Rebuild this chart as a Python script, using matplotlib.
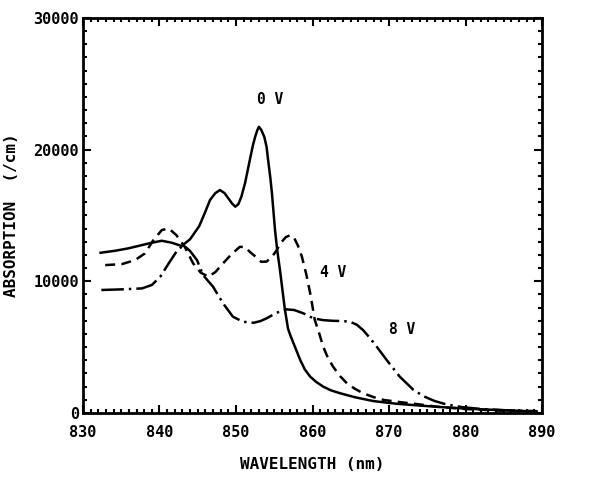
import numpy as np
import matplotlib
matplotlib.use("Agg")
import matplotlib.pyplot as plt
from matplotlib.ticker import MultipleLocator

# 0 V (solid)
wl_0v = [832.3, 834.2, 835.9, 837.7, 839.0, 840.3, 841.6, 842.9, 844.0, 845.2, 846.0,
         846.6, 847.3, 847.9, 848.5, 849.0, 849.5, 849.9, 850.3, 850.7, 851.2, 851.8,
         852.2, 852.5, 852.8, 853.0, 853.3, 853.7, 854.0, 854.2, 854.5, 854.7, 855.1,
         855.4, 855.75, 856.1, 856.4, 856.8, 857.1, 857.7, 858.4, 859.0, 859.7, 860.5,
         861.4, 862.4, 863.6, 865.5, 868.0, 871.0, 874.1, 878.0, 882.0, 886.0, 889.3]
abs_0v = [12170, 12320, 12500, 12750, 12930, 13080, 12930, 12680, 13200, 14200, 15300,
          16170, 16700, 16930, 16700, 16300, 15900, 15670, 15850, 16420, 17500, 19200,
          20300, 20970, 21500, 21730, 21500, 20970, 20200, 19200, 17800, 16670, 13890,
          12300, 10850, 9200, 7820, 6400, 5900, 5030, 4020, 3300, 2760, 2350,
          2000, 1720, 1500, 1200, 900, 700, 560, 400, 280, 180, 110]

# 4 V (dashed)
wl_4v = [832.9, 835.1, 836.8, 838.1, 839.2, 840.3, 841.2, 842.2, 843.3, 844.4, 845.4,
         846.4, 847.3, 848.3, 849.4, 850.5, 851.2, 851.8, 852.6, 853.3, 854.0, 854.7,
         855.3, 855.8, 856.5, 857.1, 857.6, 858.1, 858.6, 859.2, 859.7, 860.3, 860.9,
         861.4, 862.0, 862.7, 863.6, 864.5, 865.5, 866.6, 868.0, 869.3, 871.5, 873.6,
         876.2, 880.0, 884.9, 889.3]
abs_4v = [11230, 11310, 11610, 12120, 13130, 13890, 14020, 13510, 12620, 11360, 10650,
          10350, 10700, 11360, 12050, 12620, 12600, 12240, 11850, 11480, 11500, 11860,
          12350, 12880, 13350, 13510, 13300, 12700, 11900, 10500, 9080, 7060, 6000,
          5030, 4200, 3510, 2800, 2250, 1850, 1500, 1200, 990, 820, 680,
          480, 300, 170, 100]

# 8 V (dash-dot)
wl_8v = [832.4, 835.1, 837.7, 839.0, 840.1, 841.2, 842.2, 843.1, 844.0, 844.9, 845.7,
         847.0, 848.3, 849.6, 850.9, 852.3, 853.2, 854.0, 855.3, 856.6, 857.6, 858.8,
         860.1, 861.4, 862.7, 864.0, 864.9, 865.8, 866.6, 867.5, 868.4, 869.7, 871.4,
         873.2, 874.6, 876.0, 877.5, 879.5, 882.0, 885.5, 889.3]
abs_8v = [9340, 9390, 9460, 9720, 10350, 11360, 12240, 12750, 12300, 11610, 10470,
          9590, 8330, 7310, 6930, 6850, 6980, 7190, 7610, 7870, 7820, 7570,
          7190, 7050, 7000, 6980, 6930, 6700, 6300, 5700, 5030, 4020, 2760,
          1750, 1250, 900, 650, 450, 300, 200, 140]

labels = ["0 V", "4 V", "8 V"]
label_pos = [(854.4, 23800), (862.7, 10700), (871.7, 6350)]

fig = plt.figure(figsize=(6.04, 4.82), dpi=100)
ax = fig.add_axes([0.1374, 0.1432, 0.7600, 0.8195])

lw = 1.8
ax.plot(wl_0v, abs_0v, color="black", lw=lw, ls="-")
ax.plot(wl_4v, abs_4v, color="black", lw=lw, ls=(0, (4, 2.5)))
ax.plot(wl_8v, abs_8v, color="black", lw=lw, ls=(0, (9, 2, 1, 2)))

font = dict(family="DejaVu Sans Mono", weight="bold", size=10.5)
for lab, (x, y) in zip(labels, label_pos):
    ax.text(x, y, lab, ha="center", va="center", **font)

ax.set_xlim(830, 890)
ax.set_ylim(0, 30000)
ax.xaxis.set_major_locator(MultipleLocator(10))
ax.xaxis.set_minor_locator(MultipleLocator(1))
ax.yaxis.set_major_locator(MultipleLocator(10000))
ax.yaxis.set_minor_locator(MultipleLocator(1000))

ax.tick_params(which="both", direction="in", top=True, right=True, width=1.5, color="black")
ax.tick_params(which="major", length=6)
ax.tick_params(which="minor", length=3)
ax.tick_params(axis="x", which="major", pad=9)
ax.tick_params(axis="y", which="major", pad=3)

for lab in ax.get_xticklabels() + ax.get_yticklabels():
    lab.set_fontfamily("DejaVu Sans Mono")
    lab.set_fontweight("bold")
    lab.set_fontsize(11)

for sp in ax.spines.values():
    sp.set_linewidth(2.0)

axfont = dict(family="DejaVu Sans Mono", weight="bold", size=11.5)
ax.set_xlabel("WAVELENGTH (nm)", labelpad=12, **axfont)
ax.set_ylabel("ABSORPTION  (/cm)", labelpad=10, **axfont)

fig.savefig("out.png", dpi=100)
